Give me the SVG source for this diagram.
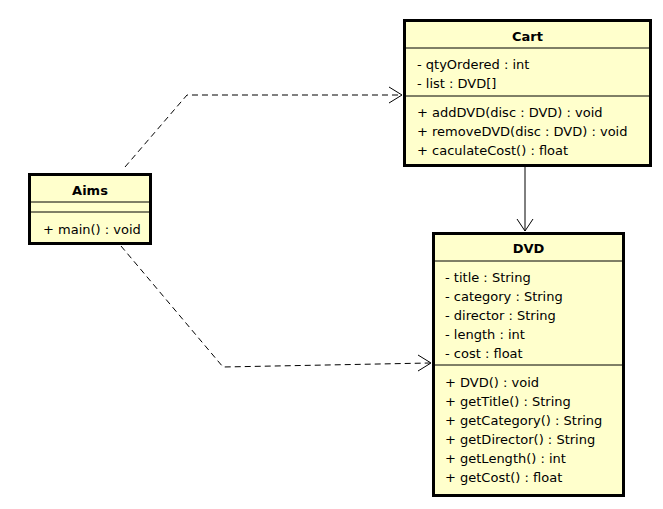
<svg xmlns="http://www.w3.org/2000/svg" width="663" height="509" viewBox="0 0 663 509">
<style>
.box{fill:#FFFFCC;stroke:#000;stroke-width:3}
.sep{stroke:#000;stroke-width:1}
.t{font-family:"DejaVu Sans",sans-serif;font-size:13px;fill:#000}
.h{font-family:"DejaVu Sans",sans-serif;font-size:13px;font-weight:bold;fill:#000;text-anchor:middle}
.dash{fill:none;stroke:#000;stroke-width:1;stroke-dasharray:6,4}
.solid{fill:none;stroke:#000;stroke-width:1}
</style>
<rect width="663" height="509" fill="#fff"/>
<g id="connectors">
<polyline class="dash" points="125,167 187,95 401,95"/>
<polyline class="solid" points="389,87 402,95 389,103"/>
<polyline class="dash" points="121,246 223,367 430,363"/>
<polyline class="solid" points="418,355 431,363 418,371"/>
<line class="solid" x1="525" y1="167" x2="525" y2="231"/>
<polyline class="solid" points="517,219 525,231 533,219"/>
</g>
<g id="Cart">
<rect class="box" x="404.5" y="20.5" width="246" height="145"/>
<line class="sep" x1="405" y1="48" x2="650" y2="48"/>
<line class="sep" x1="405" y1="96" x2="650" y2="96"/>
<text class="h" x="527.5" y="41">Cart</text>
<text class="t" x="417" y="69">- qtyOrdered : int</text>
<text class="t" x="417" y="88">- list : DVD[]</text>
<text class="t" x="417" y="117">+ addDVD(disc : DVD) : void</text>
<text class="t" x="417" y="136">+ removeDVD(disc : DVD) : void</text>
<text class="t" x="417" y="155">+ caculateCost() : float</text>
</g>
<g id="DVD">
<rect class="box" x="433.5" y="233.5" width="190" height="262"/>
<line class="sep" x1="434" y1="261" x2="623" y2="261"/>
<line class="sep" x1="434" y1="365" x2="623" y2="365"/>
<text class="h" x="528.5" y="253">DVD</text>
<text class="t" x="445" y="282">- title : String</text>
<text class="t" x="445" y="301">- category : String</text>
<text class="t" x="445" y="320">- director : String</text>
<text class="t" x="445" y="339">- length : int</text>
<text class="t" x="445" y="358">- cost : float</text>
<text class="t" x="445" y="387">+ DVD() : void</text>
<text class="t" x="445" y="406">+ getTitle() : String</text>
<text class="t" x="445" y="425">+ getCategory() : String</text>
<text class="t" x="445" y="444">+ getDirector() : String</text>
<text class="t" x="445" y="463">+ getLength() : int</text>
<text class="t" x="445" y="482">+ getCost() : float</text>
</g>
<g id="Aims">
<rect class="box" x="29.5" y="174.5" width="121" height="69"/>
<line class="sep" x1="30" y1="202" x2="150" y2="202"/>
<line class="sep" x1="30" y1="212" x2="150" y2="212"/>
<text class="h" x="90" y="195">Aims</text>
<text class="t" x="43" y="234">+ main() : void</text>
</g>
</svg>
